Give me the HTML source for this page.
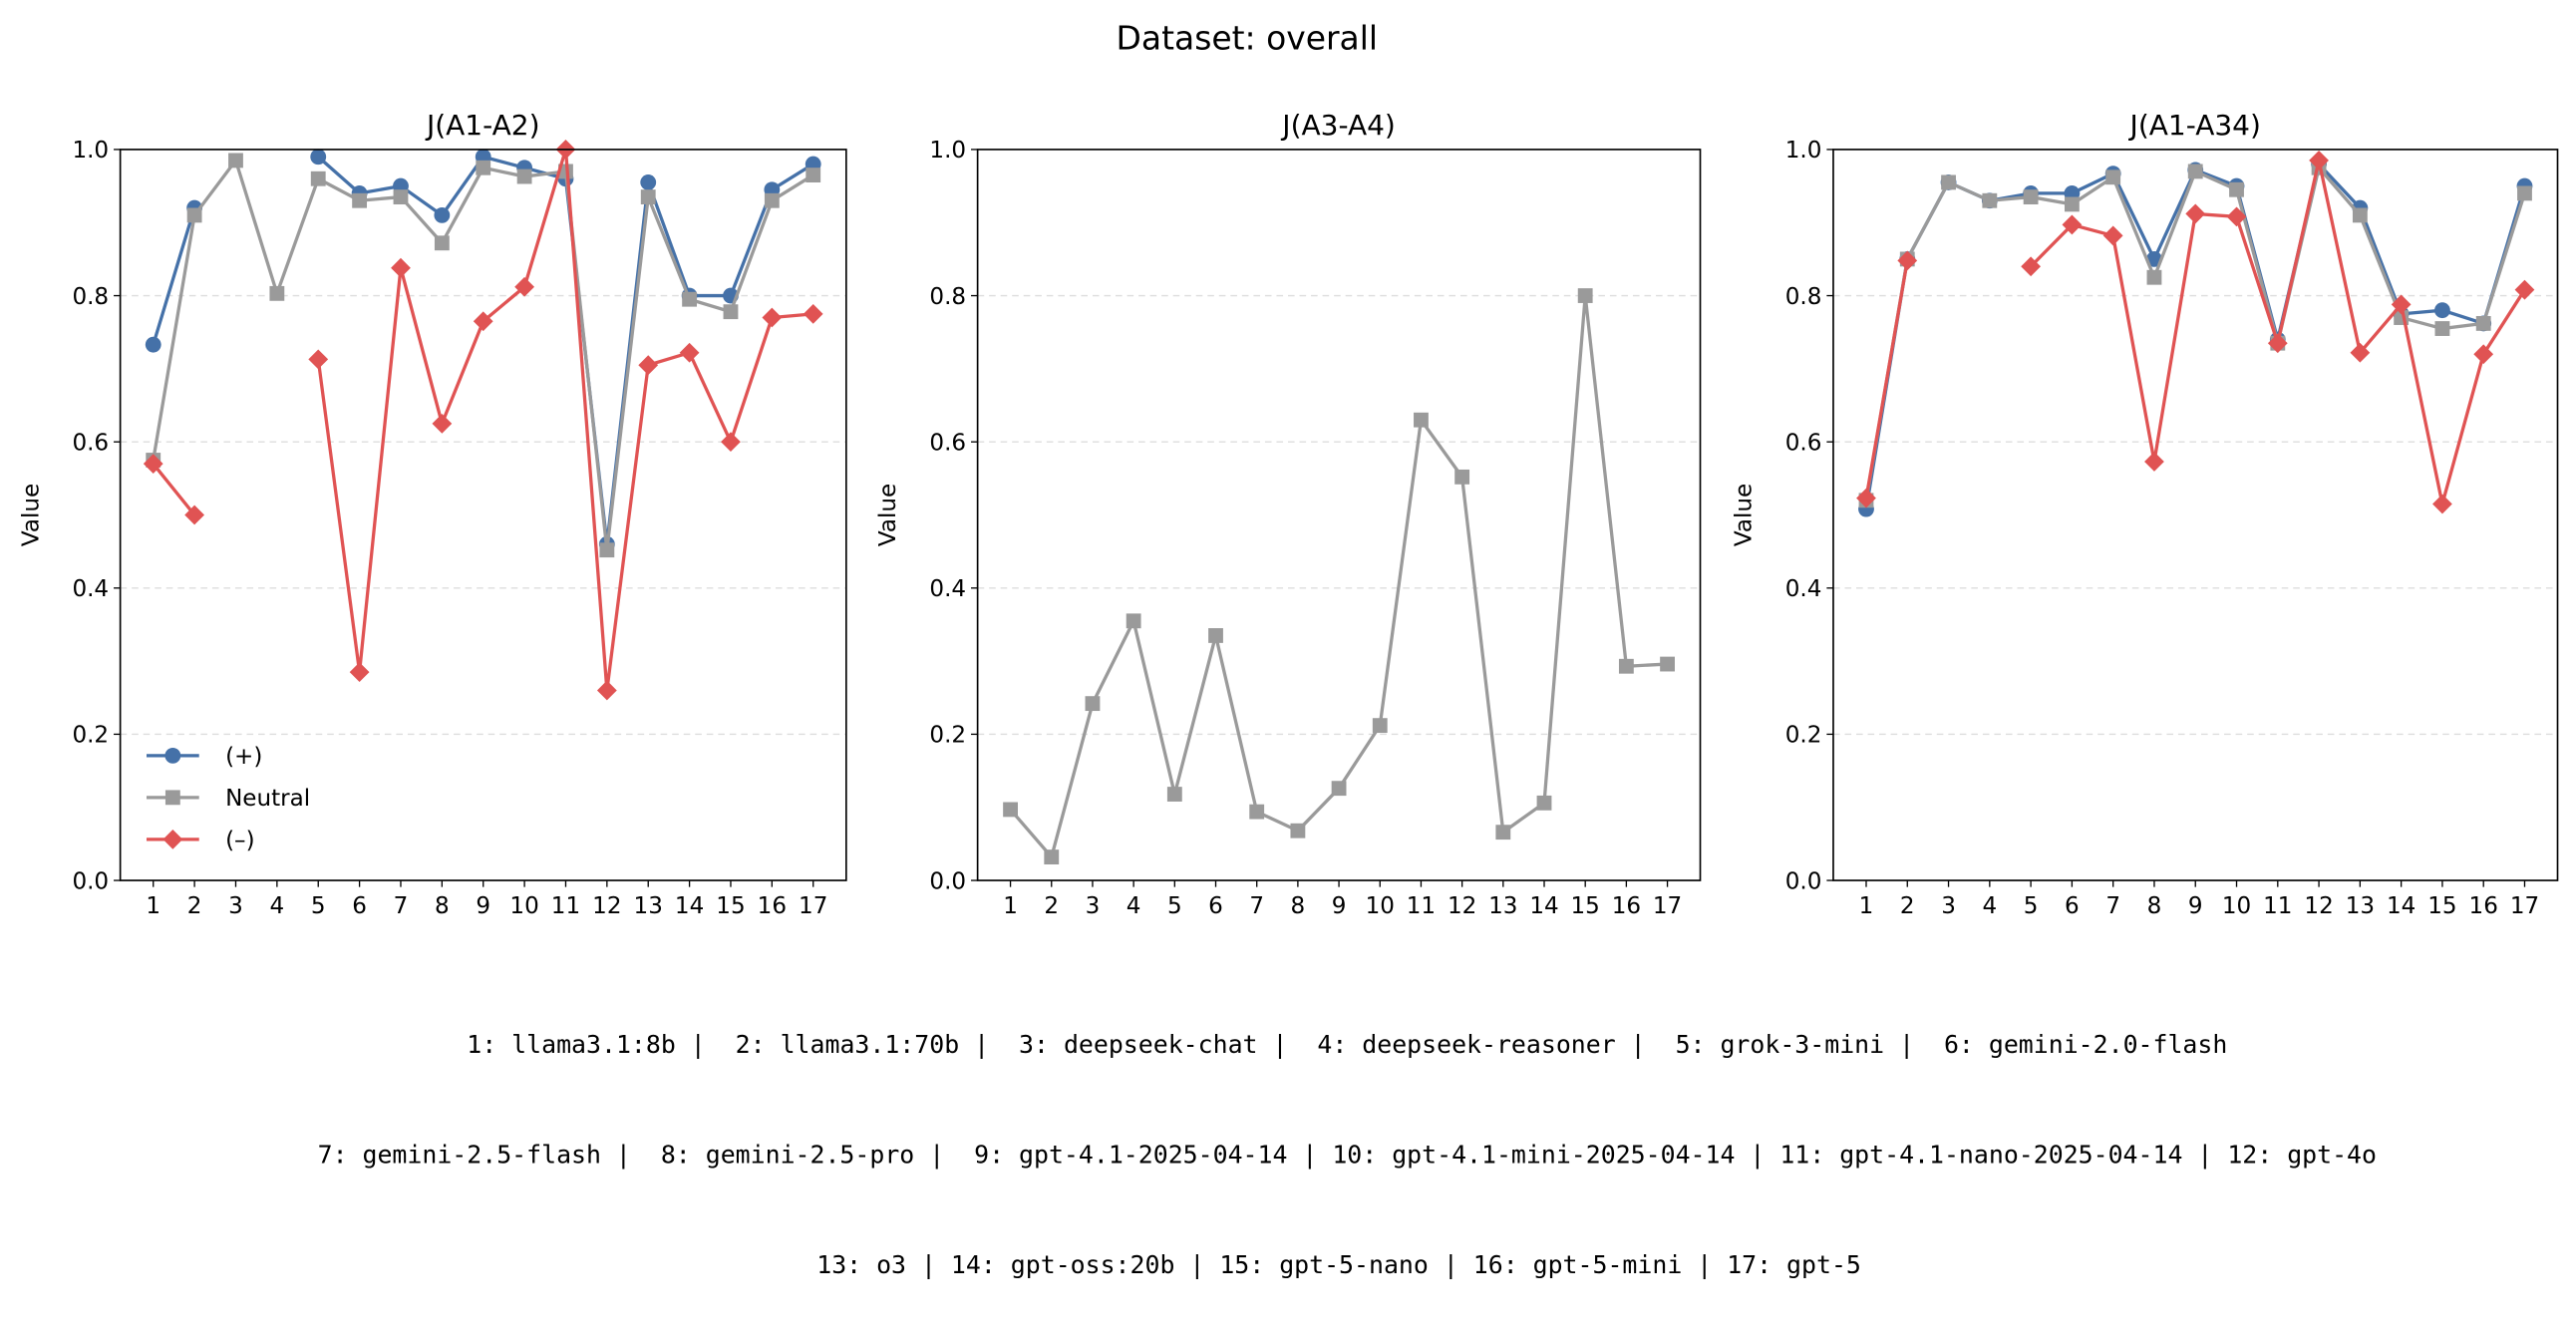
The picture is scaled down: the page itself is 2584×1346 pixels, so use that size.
<!DOCTYPE html>
<html><head><meta charset="utf-8"><style>
html,body{margin:0;padding:0;background:#fff}
svg{display:block}
text{font-family:"DejaVu Sans","Liberation Sans",sans-serif;fill:#000}
.mono{font-family:"DejaVu Sans Mono","Liberation Mono",monospace;white-space:pre}
</style></head><body>
<svg id="fig" width="2584" height="1346" viewBox="0 0 1568 817" xmlns="http://www.w3.org/2000/svg">
<rect width="1568" height="817" fill="#fff"/>
<text x="759" y="30" font-size="20" text-anchor="middle">Dataset: overall</text>
<g id="panels"></g>
<g font-size="15.1">
<text class="mono" x="820" y="641" text-anchor="middle" xml:space="preserve">1: llama3.1:8b |  2: llama3.1:70b |  3: deepseek-chat |  4: deepseek-reasoner |  5: grok-3-mini |  6: gemini-2.0-flash</text>
<text class="mono" x="820" y="708" text-anchor="middle" xml:space="preserve">7: gemini-2.5-flash |  8: gemini-2.5-pro |  9: gpt-4.1-2025-04-14 | 10: gpt-4.1-mini-2025-04-14 | 11: gpt-4.1-nano-2025-04-14 | 12: gpt-4o</text>
<text class="mono" x="815" y="775" text-anchor="middle" xml:space="preserve">13: o3 | 14: gpt-oss:20b | 15: gpt-5-nano | 16: gpt-5-mini | 17: gpt-5</text>
</g>
</svg>
<script>
const categories=[1,2,3,4,5,6,7,8,9,10,11,12,13,14,15,16,17];
const yTicks=[0.0,0.2,0.4,0.6,0.8,1.0];
const panelTitles=["J(A1-A2)","J(A3-A4)","J(A1-A34)"];
const p1Pos=[0.733,0.92,null,null,0.99,0.94,0.95,0.91,0.99,0.975,0.96,0.46,0.955,0.80,0.80,0.945,0.98];
const p1Neu=[0.575,0.91,0.985,0.803,0.96,0.93,0.935,0.872,0.975,0.963,0.97,0.452,0.935,0.795,0.778,0.93,0.965];
const p1Neg=[0.57,0.50,null,null,0.713,0.285,0.838,0.625,0.765,0.812,1.0,0.26,0.705,0.722,0.60,0.77,0.775];
const p2Neu=[0.097,0.032,0.242,0.355,0.118,0.335,0.094,0.068,0.126,0.212,0.63,0.552,0.066,0.106,0.80,0.293,0.296];
const p3Pos=[0.508,0.85,0.955,0.93,0.94,0.94,0.967,0.85,0.972,0.95,0.74,0.98,0.92,0.775,0.78,0.762,0.95];
const p3Neu=[0.52,0.85,0.955,0.93,0.935,0.925,0.962,0.825,0.97,0.945,0.735,0.975,0.91,0.77,0.755,0.762,0.94];
const p3Neg=[0.523,0.848,null,null,0.84,0.897,0.882,0.573,0.912,0.908,0.735,0.985,0.722,0.788,0.515,0.72,0.808];

const NS="http://www.w3.org/2000/svg";
const BLUE="#4571a8",GREY="#9a9a9a",RED="#e05353";
const panelsG=document.getElementById('panels');
function mk(tag,attrs,parent){const e=document.createElementNS(NS,tag);for(const k in attrs)e.setAttribute(k,attrs[k]);parent.appendChild(e);return e;}
const layouts=[{x0:73,x1:515},{x0:595,x1:1035},{x0:1116,x1:1557}];
const Y0=536,Y1=91;
const panelSeries=[
 [{v:p1Pos,c:BLUE,m:'circle',n:'plus'},{v:p1Neu,c:GREY,m:'square',n:'neutral'},{v:p1Neg,c:RED,m:'diamond',n:'minus'}],
 [{v:p2Neu,c:GREY,m:'square',n:'neutral'}],
 [{v:p3Pos,c:BLUE,m:'circle',n:'plus'},{v:p3Neu,c:GREY,m:'square',n:'neutral'},{v:p3Neg,c:RED,m:'diamond',n:'minus'}]
];
function marker(type,x,y,c,g){
 let e;
 if(type==='circle')e=mk('circle',{cx:x,cy:y,r:4.8,fill:c},g);
 else if(type==='square')e=mk('rect',{x:x-4.5,y:y-4.5,width:9,height:9,fill:c},g);
 else e=mk('polygon',{points:`${x},${y-6} ${x+6},${y} ${x},${y+6} ${x-6},${y}`,fill:c},g);
 return e;
}
layouts.forEach((L,pi)=>{
 const g=mk('g',{},panelsG);
 
 
 const xs=v=>L.x0+(v-0.2)/(17.6)*(L.x1-L.x0);
 const ys=v=>Y0-v*(Y0-Y1);
 yTicks.forEach(t=>{
  if(t>0&&t<1){const gl=mk('line',{x1:L.x0,x2:L.x1,y1:ys(t),y2:ys(t),stroke:'#ddd','stroke-width':0.8,'stroke-dasharray':'4,3'},g);
  
  }
  mk('line',{x1:L.x0-4,x2:L.x0,y1:ys(t),y2:ys(t),stroke:'#000','stroke-width':0.8},g);
  const tx=mk('text',{x:L.x0-7,y:ys(t)+5,'font-size':14,'text-anchor':'end'},g);
  tx.textContent=t.toFixed(1);
  
  
 });
 categories.forEach(c=>{
  mk('line',{x1:xs(c),x2:xs(c),y1:Y0,y2:Y0+4,stroke:'#000','stroke-width':0.8},g);
  const tx=mk('text',{x:xs(c),y:Y0+20,'font-size':14,'text-anchor':'middle'},g);
  tx.textContent=c;
  
  
 });
 const yl=mk('text',{x:0,y:0,'font-size':14,'text-anchor':'middle',transform:`translate(${L.x0-50},${(Y0+Y1)/2}) rotate(-90)`},g);
 yl.textContent='Value';
 
 
 const tt=mk('text',{x:(L.x0+L.x1)/2,y:Y1-9,'font-size':17,'text-anchor':'middle'},g);
 tt.textContent=panelTitles[pi];
 
 
 panelSeries[pi].forEach(s=>{
  const sg=mk('g',{},g);
  
  
  let segs=[],cur=[];
  s.v.forEach((v,i)=>{if(v==null){if(cur.length)segs.push(cur);cur=[];}else cur.push([xs(categories[i]),ys(v)]);});
  if(cur.length)segs.push(cur);
  segs.forEach(seg=>{if(seg.length>1){const pl=mk('polyline',{points:seg.map(p=>p.join(',')).join(' '),fill:'none',stroke:s.c,'stroke-width':2},sg);
   
   }});
  s.v.forEach((v,i)=>{if(v==null)return;const m=marker(s.m,xs(categories[i]),ys(v),s.c,sg);
   
   });
 });
 const fr=mk('rect',{x:L.x0,y:Y1,width:L.x1-L.x0,height:Y0-Y1,fill:'none',stroke:'#000','stroke-width':1},g);
 
 
 if(pi===0){
  const lg=mk('g',{},g);
  
  
  const items=[['(+)',BLUE,'circle'],['Neutral',GREY,'square'],['(–)',RED,'diamond']];
  items.forEach((it,k)=>{
   const y=460+k*25.5;
   const eg=mk('g',{},lg);
   
   
   mk('line',{x1:89,x2:121,y1:y,y2:y,stroke:it[1],'stroke-width':2},eg);
   marker(it[2],105,y,it[1],eg);
   const t=mk('text',{x:137,y:y+5,'font-size':14},eg);t.textContent=it[0];
  });
 }
});
</script>
</body></html>
